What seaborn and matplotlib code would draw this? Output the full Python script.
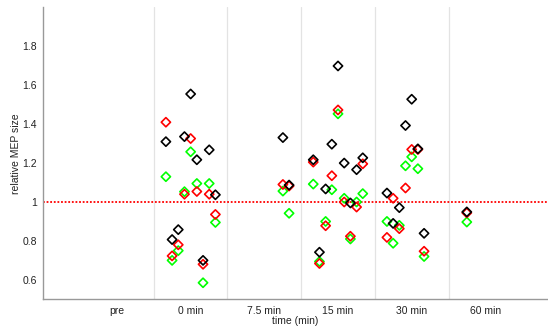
import matplotlib
matplotlib.use("Agg")
import matplotlib.pyplot as plt
import numpy as np
import pandas as pd
import seaborn as sns

# time points (categories on the x axis)
times = ["pre", "0 min", "7.5 min", "15 min", "30 min", "60 min"]

# subject ids measured at each time point
subj_0 = [1, 2, 3, 4, 5, 6, 7, 8, 9]
subj_7 = [8, 9]
subj_15 = [1, 2, 3, 4, 5, 6, 7, 8, 9]
subj_30 = [1, 2, 3, 4, 5, 6, 7]
subj_60 = [2]

# relative MEP size, three series (black / red / green)
black_0 = [1.31, 0.807, 0.858, 1.336, 1.555, 1.217, 0.70, 1.268, 1.037]
red_0 = [1.41, 0.723, 0.78, 1.04, 1.326, 1.054, 0.68, 1.04, 0.936]
green_0 = [1.13, 0.70, 0.75, 1.053, 1.258, 1.095, 0.585, 1.095, 0.895]

black_7 = [1.331, 1.087]
red_7 = [1.09, 1.082]
green_7 = [1.056, 0.942]

black_15 = [1.217, 0.742, 1.067, 1.297, 1.699, 1.20, 0.995, 1.166, 1.227]
red_15 = [1.205, 0.684, 0.878, 1.135, 1.473, 1.0, 0.824, 0.974, 1.196]
green_15 = [1.092, 0.694, 0.90, 1.063, 1.453, 1.019, 0.81, 1.0, 1.043]

black_30 = [1.046, 0.89, 0.971, 1.393, 1.528, 1.273, 0.839]
red_30 = [0.818, 1.019, 0.863, 1.072, 1.27, 1.27, 0.747]
green_30 = [0.90, 0.788, 0.88, 1.186, 1.232, 1.171, 0.72]

black_60 = [0.949]
red_60 = [0.944]
green_60 = [0.897]

baseline = 1.0

# build a long table
groups = [
    ("0 min", subj_0, black_0, red_0, green_0),
    ("7.5 min", subj_7, black_7, red_7, green_7),
    ("15 min", subj_15, black_15, red_15, green_15),
    ("30 min", subj_30, black_30, red_30, green_30),
    ("60 min", subj_60, black_60, red_60, green_60),
]
rows = []
for t, subj, b, r, g in groups:
    for i, s in enumerate(subj):
        rows.append((t, s, "black", b[i]))
        rows.append((t, s, "red", r[i]))
        rows.append((t, s, "green", g[i]))
df = pd.DataFrame(rows, columns=["time", "subject", "series", "value"])

step = 0.084  # horizontal spread of subjects inside a time bin
df["x"] = df["time"].map({t: i + 1 for i, t in enumerate(times)}) + (df["subject"] - 5) * step

sns.set_style("white")
plt.rcParams["font.family"] = ["Liberation Sans", "DejaVu Sans"]

fig = plt.figure(figsize=(5.48, 3.28), dpi=100)
ax = fig.add_axes([0.079, 0.0875, 0.921, 0.89])

# light separators between time bins
for xv in np.arange(1.5, len(times) - 0.4, 1.0):
    ax.axvline(xv, color="#e3e3e3", lw=0.9, zorder=0)

ax.axhline(baseline, color="red", lw=1.3, ls=(0, (1, 1)), zorder=1)

colors = {"green": "#00ff00", "red": "#ff0000", "black": "#000000"}
for name in ["green", "red", "black"]:
    sub = df[df["series"] == name]
    sns.scatterplot(data=sub, x="x", y="value", ax=ax, marker="D", s=22,
                    color=colors[name], facecolor="none", edgecolor=colors[name],
                    linewidth=1.2, legend=False, zorder=3)

ax.set_xlim(0, 6.85)
ax.set_ylim(0.5, 2.0)
ax.set_xticks(range(1, len(times) + 1))
ax.set_xticklabels(times)
ax.set_yticks([0.6, 0.8, 1.0, 1.2, 1.4, 1.6, 1.8])
ax.set_yticklabels(["0.6", "0.8", "1", "1.2", "1.4", "1.6", "1.8"])
ax.set_xlabel("time (min)", fontsize=7.5, color="#222222", labelpad=0.5)
ax.set_ylabel("relative MEP size", fontsize=7.5, color="#222222", labelpad=1)
ax.tick_params(direction="in", length=3.5, width=0.8, colors="#888888",
               labelcolor="#222222", labelsize=7.5, pad=4.5)

for side in ["top", "right"]:
    ax.spines[side].set_visible(False)
for side in ["left", "bottom"]:
    ax.spines[side].set_color("#999999")
    ax.spines[side].set_linewidth(1.0)

fig.savefig("out.png", dpi=100)
